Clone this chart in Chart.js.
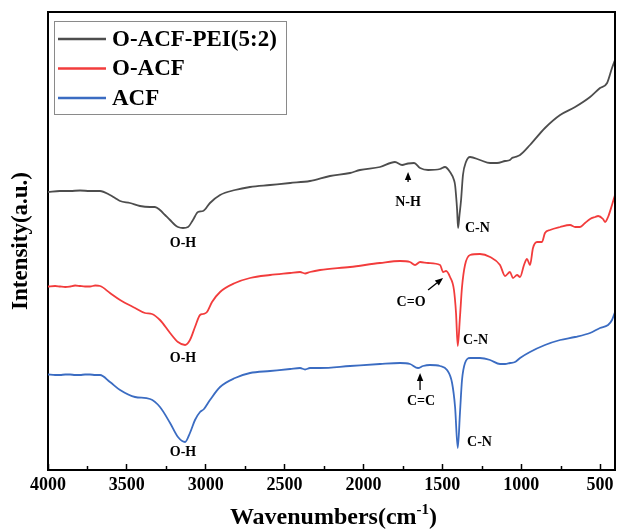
<!DOCTYPE html>
<html>
<head>
<meta charset="utf-8">
<script src="https://cdn.jsdelivr.net/npm/chart.js@4.4.1/dist/chart.umd.min.js"></script>
<style>
  html, body { margin: 0; padding: 0; background: #fff; }
  canvas { display: block; }
</style>
</head>
<body>
<canvas id="ftir" width="618" height="529"></canvas>
<script>
// FTIR spectra of the three fibre samples (arbitrary intensity units, offset per curve)
const seriesNames = ['O-ACF-PEI(5:2)', 'O-ACF', 'ACF'];
const seriesColors = ['#4d4d4d', '#f23c3c', '#3b6cc2'];

const peiWn  = [4000,3924,3860,3797,3734,3670,3607,3575,3543,3480,3417,3353,3322,3290,3258,3226,3195,3176,3144,3112,3081,3049,3017,2973,2909,2814,2719,2592,2465,2339,2212,2085,2022,1895,1800,1755,1717,1679,1641,1590,1514,1483,1451,1426,1419,1413,1406,1400,1391,1381,1369,1350,1324,1261,1197,1153,1102,1071,1058,1039,1007,944,849,753,658,563,500,455,424,405];
const peiInt = [278,279,279,279.5,279,279,275,272,269,267,264,263,263,260,255,250,245,243,242,243,250,258,259,267,275,280,283,285,287,289,294,297,300,303,308,305,306.5,307,302,300,301,303,298,290,285,275,260,242,255,270,295,308,313,310,307,307,309,310,312,313,315,325,342,355,363,373,382,387,402,410];

const oacfWn  = [4000,3955,3924,3890,3860,3828,3797,3765,3734,3700,3670,3607,3543,3448,3385,3341,3290,3226,3176,3131,3100,3068,3036,3017,2992,2960,2909,2814,2719,2592,2465,2402,2370,2339,2275,2085,1895,1768,1705,1673,1641,1590,1514,1495,1476,1451,1426,1413,1402,1388,1375,1356,1324,1261,1197,1134,1102,1071,1052,1026,1007,982,963,944,925,899,868,849,817,753,690,658,627,595,563,531,512,481,468,449,424,405];
const oacfInt = [183.5,184,183.5,183,183.5,184.5,184,183.5,183.5,184.5,184,177,170,162,157,156,150,137,128,125,130,143,155,156,158,168,178,187,192,195,197,198,196.5,198,200,203,207,209,208,205,208,207,205,198,199,193,180,157,124,153,183,205,215,216,213,205,194,198,192,195,193,205,211,205,222,228,228,237,240,243,245,243,243,247,251,253,254,251,248,253,265,275];

const acfWn  = [4000,3955,3924,3890,3860,3828,3797,3765,3734,3700,3670,3607,3543,3448,3353,3290,3226,3176,3131,3100,3068,3036,3011,2973,2909,2814,2719,2592,2465,2402,2370,2339,2275,2085,1895,1768,1705,1654,1622,1578,1514,1470,1438,1419,1402,1388,1375,1356,1324,1261,1197,1134,1102,1071,1039,1007,944,849,753,658,563,500,449,424,405];
const acfInt = [95.5,95,95,95.5,95.5,95,95,95.5,95.5,95,95,88,80,73,71,63,47,33,28,37,50,58,61,70,83,92,97,99,101,102,100.5,102,102,104,106,107,106,102,104,105,104,100,87,63,22,57,90,107,112,112,110,106,106,107,108,112,118,125,130,133,137,142,145,150,158];

const xTickValues  = [4000, 3500, 3000, 2500, 2000, 1500, 1000, 500];
const xMinorValues = [3750, 3250, 2750, 2250, 1750, 1250, 750];

// Band assignments written next to the peaks
const peakLabels = [
  { text: 'O-H', wn: 3144, v: 227, align: 'center' },
  { text: 'O-H', wn: 3144, v: 112, align: 'center' },
  { text: 'O-H', wn: 3144, v: 18,  align: 'center' },
  { text: 'N-H', wn: 1717, v: 268, align: 'center' },
  { text: 'C-N', wn: 1356, v: 242, align: 'left' },
  { text: 'C=O', wn: 1698, v: 168, align: 'center' },
  { text: 'C-N', wn: 1368, v: 130, align: 'left' },
  { text: 'C=C', wn: 1635, v: 69,  align: 'center' },
  { text: 'C-N', wn: 1343, v: 28,  align: 'left' }
];
// Pointer arrows: tail -> tip
const arrows = [
  { from: [1717, 288], to: [1717, 298] },
  { from: [1590, 180], to: [1495, 192] },
  { from: [1641, 80],  to: [1641, 97] }
];

const SERIF = "'Liberation Serif', 'Times New Roman', serif";

const toPoints = (wn, val) => wn.map((w, i) => ({ x: w, y: val[i] }));

const frameAndNotes = {
  id: 'frameAndNotes',
  afterDraw(chart) {
    const { ctx, chartArea: a, scales: { x, y } } = chart;
    ctx.save();

    // top and right frame lines
    ctx.strokeStyle = '#000';
    ctx.lineWidth = 2;
    ctx.beginPath();
    ctx.moveTo(a.left - 1, a.top);
    ctx.lineTo(a.right, a.top);
    ctx.lineTo(a.right, a.bottom + 1);
    ctx.stroke();

    // minor ticks on the wavenumber axis
    ctx.lineWidth = 1.5;
    xMinorValues.forEach(v => {
      const px = Math.round(x.getPixelForValue(v)) + 0.5;
      ctx.beginPath();
      ctx.moveTo(px, a.bottom);
      ctx.lineTo(px, a.bottom - 4);
      ctx.stroke();
    });

    // peak labels
    ctx.fillStyle = '#000';
    ctx.font = 'bold 14px ' + SERIF;
    ctx.textBaseline = 'middle';
    peakLabels.forEach(p => {
      ctx.textAlign = p.align;
      ctx.fillText(p.text, x.getPixelForValue(p.wn), y.getPixelForValue(p.v));
    });

    // arrows
    arrows.forEach(ar => {
      const x0 = x.getPixelForValue(ar.from[0]), y0 = y.getPixelForValue(ar.from[1]);
      const x1 = x.getPixelForValue(ar.to[0]),   y1 = y.getPixelForValue(ar.to[1]);
      const ang = Math.atan2(y1 - y0, x1 - x0);
      const head = 8, half = 3.2;
      const bx = x1 - head * Math.cos(ang), by = y1 - head * Math.sin(ang);
      if (Math.hypot(x1 - x0, y1 - y0) > head + 1) {
        ctx.lineWidth = 1.3;
        ctx.beginPath();
        ctx.moveTo(x0, y0);
        ctx.lineTo(bx, by);
        ctx.stroke();
      }
      ctx.beginPath();
      ctx.moveTo(x1, y1);
      ctx.lineTo(bx + half * Math.sin(ang), by - half * Math.cos(ang));
      ctx.lineTo(bx - half * Math.sin(ang), by + half * Math.cos(ang));
      ctx.closePath();
      ctx.fill();
    });

    // x-axis title with superscript
    ctx.font = 'bold 24px ' + SERIF;
    const t1 = 'Wavenumbers(cm', t3 = ')';
    const supFont = 'bold 15px ' + SERIF, t2 = '-1';
    const w1 = ctx.measureText(t1).width, w3 = ctx.measureText(t3).width;
    ctx.font = supFont;
    const w2 = ctx.measureText(t2).width;
    const total = w1 + w2 + w3;
    const cx = (a.left + a.right) / 2 + 2;
    const sx = cx - total / 2;
    const base = 524;
    ctx.textAlign = 'left';
    ctx.textBaseline = 'alphabetic';
    ctx.font = 'bold 24px ' + SERIF;
    ctx.fillText(t1, sx, base);
    ctx.font = supFont;
    ctx.fillText(t2, sx + w1, base - 10);
    ctx.font = 'bold 24px ' + SERIF;
    ctx.fillText(t3, sx + w1 + w2, base);

    // legend box
    const lx = 54, ly = 21, lw = 232, lh = 93;
    ctx.fillStyle = '#fff';
    ctx.fillRect(lx, ly, lw, lh);
    ctx.strokeStyle = '#8a8a8a';
    ctx.lineWidth = 1;
    ctx.strokeRect(lx + 0.5, ly + 0.5, lw, lh);
    const rows = [39, 68.5, 98];
    chart.data.datasets.forEach((ds, i) => {
      ctx.strokeStyle = ds.borderColor;
      ctx.lineWidth = 2.5;
      ctx.beginPath();
      ctx.moveTo(58, rows[i]);
      ctx.lineTo(106, rows[i]);
      ctx.stroke();
      ctx.fillStyle = '#000';
      ctx.font = 'bold 23px ' + SERIF;
      ctx.textBaseline = 'middle';
      ctx.fillText(ds.label, 112, rows[i] + 1);
    });

    ctx.restore();
  }
};

new Chart(document.getElementById('ftir'), {
  type: 'line',
  data: {
    datasets: [
      { label: seriesNames[0], data: toPoints(peiWn, peiInt),   borderColor: seriesColors[0] },
      { label: seriesNames[1], data: toPoints(oacfWn, oacfInt), borderColor: seriesColors[1] },
      { label: seriesNames[2], data: toPoints(acfWn, acfInt),   borderColor: seriesColors[2] }
    ]
  },
  options: {
    responsive: false,
    animation: false,
    devicePixelRatio: 1,
    layout: { padding: { top: 12, right: 3, left: 0, bottom: 0 } },
    elements: {
      line: { borderWidth: 1.8, cubicInterpolationMode: 'monotone', fill: false },
      point: { radius: 0 }
    },
    plugins: { legend: { display: false }, tooltip: { enabled: false } },
    scales: {
      x: {
        type: 'linear',
        reverse: true,
        min: 405,
        max: 4000,
        afterFit(s) { s.height = 59; s.paddingLeft = 0; s.paddingRight = 0; },
        afterBuildTicks(s) { s.ticks = xTickValues.map(v => ({ value: v })); },
        grid: { drawOnChartArea: false, tickLength: -6, tickColor: '#000', tickWidth: 1.5 },
        border: { display: true, color: '#000', width: 2 },
        ticks: {
          padding: 11,
          color: '#000',
          maxRotation: 0,
          autoSkip: false,
          font: { family: SERIF, size: 18, weight: 'bold', lineHeight: 1.2 },
          callback: v => String(v)
        },
        title: { display: false }
      },
      y: {
        min: 0,
        max: 458,
        afterFit(s) { s.width = 48; s.paddingTop = 0; s.paddingBottom = 0; },
        grid: { display: false },
        border: { display: true, color: '#000', width: 2 },
        ticks: { display: false },
        title: {
          display: true,
          text: 'Intensity(a.u.)',
          color: '#000',
          padding: { top: 10, bottom: 0 },
          font: { family: SERIF, size: 23, weight: 'bold', lineHeight: 1 }
        }
      }
    }
  },
  plugins: [frameAndNotes]
});
</script>
</body>
</html>
